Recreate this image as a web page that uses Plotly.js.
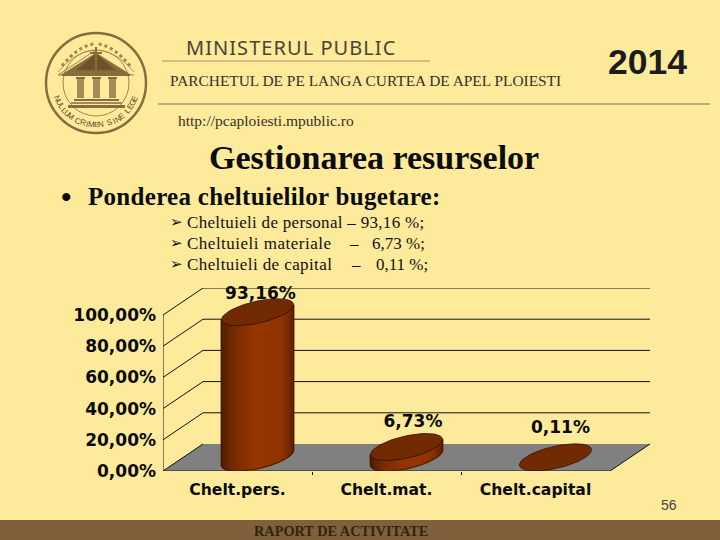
<!DOCTYPE html>
<html><head><meta charset="utf-8">
<script src="https://cdn.plot.ly/plotly-3.0.1.min.js"></script>
<style>html,body{margin:0;padding:0;background:#FEEA9B}</style></head>
<body><div id="chart" style="width:720px;height:540px"></div>
<script>
const categories = ["Chelt.pers.", "Chelt.mat.", "Chelt.capital"];
const values = [93.16, 6.73, 0.11];
const valueLabels = ["93,16%", "6,73%", "0,11%"];
const yTicks = [0, 20, 40, 60, 80, 100];
const yTickLabels = ["0,00%", "20,00%", "40,00%", "60,00%", "80,00%", "100,00%"];

// plot frame (pixels) and pseudo-3D depth
const L = 163, R = 650, T = 288, B = 471, W = 720, H = 540;
const pxPerCat = 149, pxPerVal = 1.56;
const depthX = 40 / pxPerCat, depthY = 27 / pxPerVal;
const xMin = -0.5, xFront = 2.5, xMax = xMin + (R - L) / pxPerCat, yMax = (B - T) / pxPerVal;
const radius = 30 / pxPerCat;
const labelLift = [19.6, 24, 26.7];
const BROWN = "#8a6c3c", BG = "#FEEA9B";

const traces = [];
const ln = (x, y, c, w) => traces.push({x, y, mode: "lines", line: {color: c || "#000", width: w || 1}, hoverinfo: "skip", showlegend: false, cliponaxis: false});
const poly = (x, y, c, lc, lw) => traces.push({x, y, mode: "lines", fill: "toself", fillcolor: c, line: {color: lc || c, width: lw === undefined ? 0.5 : lw}, hoverinfo: "skip", showlegend: false, cliponaxis: false});

// floor
poly([xMin, xMin + depthX, xMax, xFront, xMin], [0, depthY, depthY, 0, 0], "#808080", "#808080", 0);
// walls and gridlines
yTicks.forEach(v => {
  if (v > 0) ln([xMin + depthX, xMax], [v + depthY, v + depthY], "#111", 1);
  ln([xMin, xMin + depthX], [v, v + depthY], "#111", 1);
});
ln([xMin, xMin], [0, 100], "#111", 1);
ln([xMin, xFront], [0, 0], "#222", 1);
ln([xFront, xMax], [0, depthY], "#111", 1);

// real bars beneath the cylinder shading
const cxs = categories.map((_, i) => i + depthX / 2);
traces.push({type: "bar", x: cxs, y: values, base: depthY / 2, width: 2 * radius,
  marker: {color: "#8f3400", line: {width: 0}}, hoverinfo: "skip", showlegend: false});

const shade = s => { // s 0..1 left to right
  const stops = [[0, [78, 30, 0]], [0.18, [118, 44, 2]], [0.5, [150, 54, 0]], [0.85, [142, 52, 0]], [1, [100, 36, 0]]];
  for (let i = 1; i < stops.length; i++) if (s <= stops[i][0]) {
    const f = (s - stops[i - 1][0]) / (stops[i][0] - stops[i - 1][0]);
    const c = stops[i - 1][1].map((a, k) => Math.round(a + (stops[i][1][k] - a) * f));
    return "rgb(" + c.join(",") + ")";
  }
  return "rgb(100,36,0)";
};
const t0 = Math.atan2(depthX / 2, radius);
values.forEach((v, i) => {
  const cx = cxs[i], cy = depthY / 2;
  const ex = t => cx + radius * Math.cos(t) + depthX / 2 * Math.sin(t);
  const ey = (t, h) => cy + h + depthY / 2 * Math.sin(t);
  const n = 24, start = t0 + Math.PI;
  const ts = []; for (let k = 0; k <= n; k++) ts.push(start + Math.PI * k / n);
  const xl = ex(start), xr = ex(start + Math.PI);
  if (v > 0.5) for (let k = 0; k < n; k++) {
    const a = ts[k], b = ts[k + 1], col = shade(((ex(a) + ex(b)) / 2 - xl) / (xr - xl));
    poly([ex(a), ex(b), ex(b), ex(a), ex(a)], [ey(a, 0), ey(b, 0), ey(b, v), ey(a, v), ey(a, 0)], col, col, 1.6);
  }
  // outline of the front
  if (v > 0.5) {
    ln([ex(start)].concat(ts.map(ex)).concat([ex(start + Math.PI)]), [ey(start, v)].concat(ts.map(t => ey(t, 0))).concat([ey(start + Math.PI, v)]), "#3a1500", 0.8);
  }
  // top
  const full = []; for (let k = 0; k <= 72; k++) full.push(k * Math.PI / 36);
  poly(full.map(ex), full.map(t => ey(t, v)), "#722a02", "#2f1000", 0.8);
});

// value labels
traces.push({x: cxs.map((c, i) => c + [3, 6.5, 5][i] / pxPerCat), y: values.map((v, i) => v + labelLift[i]), text: valueLabels, mode: "text",
  textposition: "middle center", textfont: {family: "DejaVu Sans", size: 17, color: "#0a0a0a", weight: 700},
  hoverinfo: "skip", showlegend: false, cliponaxis: false});

// page furniture in page pixels
const px = x => (x - L) / (R - L), py = y => (B - y) / (B - T);
const note = (x, y, text, family, size, color, extra) => Object.assign({xref: "paper", yref: "paper", x: px(x), y: py(y), text, showarrow: false,
  xanchor: "left", yanchor: "middle", font: {family, size, color}, borderpad: 0, borderwidth: 0}, extra || {});
const spaced = (text, s) => '<span style="letter-spacing:' + s + 'px">' + text + '</span>';
const SERIF = "Liberation Serif", SANS = "Liberation Sans";
const annotations = [
  note(186, 48, spaced("MINISTERUL PUBLIC", 1.05), "Noto Sans", 20, "#4a4436"),
  note(170, 80, "PARCHETUL DE PE LANGA CURTEA DE APEL PLOIESTI", SERIF, 15.4, "#35302a"),
  note(178, 120, "http://pcaploiesti.mpublic.ro", SERIF, 15.5, "#35302a"),
  note(608, 62, "<b>2014</b>", SANS, 35.5, "#1c1c1c"),
  note(209, 157, "<b>Gestionarea resurselor</b>", SERIF, 34, "#0c0c0c"),
  note(61, 196, "<b>•</b>", SERIF, 30, "#0c0c0c"),
  note(88, 196, spaced("<b>Ponderea cheltuielilor bugetare:</b>", 0.3), SERIF, 25, "#0c0c0c"),
  note(170, 222, "➢", "DejaVu Sans", 15, "#111"),
  note(170, 243, "➢", "DejaVu Sans", 15, "#111"),
  note(170, 264, "➢", "DejaVu Sans", 15, "#111"),
  note(187, 222, spaced("Cheltuieli de personal – 93,16 %;", 0.3), SERIF, 17, "#111"),
  note(187, 243, spaced("Cheltuieli materiale", 0.5), SERIF, 17, "#111"),
  note(349, 243, "–", SERIF, 17, "#111"),
  note(372, 243, "6,73 %;", SERIF, 17, "#111"),
  note(187, 264, spaced("Cheltuieli de capital", 0.4), SERIF, 17, "#111"),
  note(351, 264, "–", SERIF, 17, "#111"),
  note(376, 264, "0,11 %;", SERIF, 17, "#111"),
  note(661, 505, "56", SANS, 14, "#444"),
  note(254, 531, "<b>RAPORT DE ACTIVITATE</b>", SERIF, 14.3, "#2e2414")
];
// curved motto of the seal
const motto = "NULLUM CRIMEN SINE LEGE", lcx = 96, lcy = 83;
[...motto].forEach((ch, i) => {
  const deg = -68 + 136 * i / (motto.length - 1), a = deg * Math.PI / 180;
  if (ch !== " ") annotations.push(Object.assign(note(lcx + 42 * Math.sin(a), lcy + 42 * Math.cos(a), ch, SANS, 8, "#5d4a28",
    {textangle: -deg, xanchor: "center"})));
});

const rect = (x0, y0, x1, y1, fill) => ({type: "rect", xref: "paper", yref: "paper", x0: px(x0), x1: px(x1), y0: py(y0), y1: py(y1), fillcolor: fill, line: {width: 0}, layer: "below"});
const line = (x0, y0, x1, y1, c, w) => ({type: "line", xref: "paper", yref: "paper", x0: px(x0), x1: px(x1), y0: py(y0), y1: py(y1), line: {color: c, width: w}, layer: "below"});
const circle = (cx, cy, r, c, w) => ({type: "circle", xref: "paper", yref: "paper", x0: px(cx - r), x1: px(cx + r), y0: py(cy - r), y1: py(cy + r), line: {color: c, width: w}, layer: "below"});
const tri = (pts, fill) => ({type: "path", xref: "paper", yref: "paper", path: "M" + pts.map(p => px(p[0]) + "," + py(p[1])).join("L") + "Z", fillcolor: fill, line: {color: fill, width: 0.5}, layer: "below"});
const curve = (a, b, c, col, w, dash) => ({type: "path", xref: "paper", yref: "paper", path: "M" + px(a[0]) + "," + py(a[1]) + "Q" + px(b[0]) + "," + py(b[1]) + " " + px(c[0]) + "," + py(c[1]), line: {color: col, width: w, dash: dash || "solid"}, layer: "below"});
const shapes = [
  rect(0, 520, 720, 540, "#7F603A"),
  line(162, 61, 430, 61, "#a39668", 1.2),
  line(158, 104, 710, 104, "#a39668", 1.5),
  circle(lcx, lcy, 50, BROWN, 2.5),
  circle(lcx, lcy, 33, BROWN, 0.8),
  curve([62, 66], [78, 46], [94, 44], "#a08850", 3, "dot"),
  curve([130, 66], [114, 46], [98, 44], "#a08850", 3, "dot"),
  curve([58, 72], [74, 52], [94, 50], "#a08850", 0.8),
  curve([134, 72], [118, 52], [98, 50], "#a08850", 0.8),
  tri([[96, 50], [58, 75], [134, 75], [131, 75], [96, 53], [61, 75], [58, 75]], BROWN),
  tri([[96, 54], [77, 70], [115, 70]], "#6e5228"),
  rect(95, 47, 97, 72, BROWN), rect(90, 52, 102, 54, BROWN),
  rect(62, 74, 130, 76, BROWN),
  rect(77, 77, 84, 98, "#a58a55"), rect(93, 77, 100, 98, "#a58a55"), rect(109, 77, 116, 98, "#a58a55"),
  rect(76, 77, 85, 79, BROWN), rect(92, 77, 101, 79, BROWN), rect(108, 77, 117, 79, BROWN),
  rect(74, 99, 119, 101, BROWN), rect(71, 102, 122, 104, "#a58a55"), rect(68, 105, 125, 108, BROWN)
];

Plotly.newPlot("chart", traces, {
  width: W, height: H, autosize: false,
  margin: {l: L, r: W - R, t: T, b: H - B, pad: 0},
  paper_bgcolor: BG, plot_bgcolor: "rgba(0,0,0,0)", showlegend: false, barmode: "overlay",
  font: {family: "DejaVu Sans"},
  xaxis: {range: [xMin, xMax], tickvals: [0, 1, 2], ticktext: categories, ticks: "", showgrid: false, zeroline: false, showline: false, ticklabelstandoff: 7,
    tickfont: {family: "DejaVu Sans", size: 15.6, color: "#0a0a0a", weight: 700},
    minor: {tickvals: [0.5, 1.5], ticks: "outside", ticklen: 3, tickcolor: "#111", showgrid: false}},
  yaxis: {range: [0, yMax], tickvals: yTicks, ticktext: yTickLabels, ticks: "", showgrid: false, zeroline: false, showline: false, ticklabelstandoff: 6,
    tickfont: {family: "DejaVu Sans", size: 17, color: "#0a0a0a", weight: 700}},
  shapes, annotations
}, {displayModeBar: false, staticPlot: true});
</script></body></html>
